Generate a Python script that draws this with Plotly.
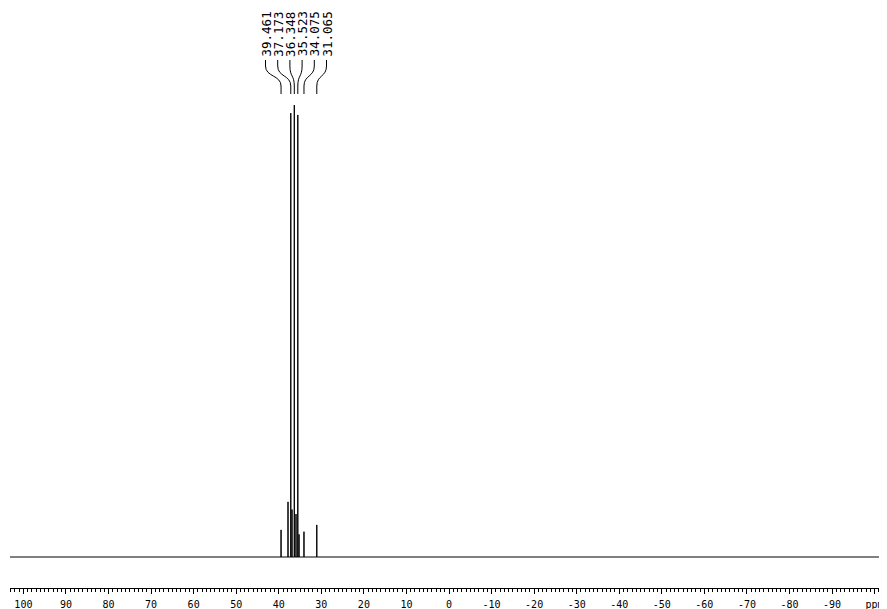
import plotly.graph_objects as go

# ---------------- data ----------------
peak_ppm = [39.461, 37.173, 36.348, 35.523, 34.075, 31.065]
peak_height = [0.060, 0.982, 1.000, 0.978, 0.056, 0.071]
peak_labels = ["39.461", "37.173", "36.348", "35.523", "34.075", "31.065"]

# unlabelled shoulder lines at the foot of the main multiplet
shoulder_ppm = [37.83, 36.89, 35.95, 35.24]
shoulder_height = [0.122, 0.105, 0.095, 0.050]

tick_vals = [100, 90, 80, 70, 60, 50, 40, 30, 20, 10, 0,
             -10, -20, -30, -40, -50, -60, -70, -80, -90, -100]
tick_text = ["100", "90", "80", "70", "60", "50", "40", "30", "20", "10", "0",
             "-10", "-20", "-30", "-40", "-50", "-60", "-70", "-80", "-90", "ppm"]

# ---------------- geometry helpers (page pixel -> data) ----------------
OFFSET = 8           # page body margin
FIG_W, FIG_H = 887 - OFFSET, 609 - OFFSET
ZERO_PX = 449.0      # page x pixel of 0 ppm
PX_PER_PPM = 4.256
BASE_PX = 557.0      # page y pixel of the baseline
PX_PER_UNIT = 452.0  # y pixels for intensity 1.0
PLOT_LEFT_PX, PLOT_RIGHT_PX = 10.0, 880.0
PLOT_TOP_PX, PLOT_BOTTOM_PX = 8.0, 588.0

def ppm_of_px(p):
    return (ZERO_PX - p) / PX_PER_PPM

def y_of_px(p):
    return (BASE_PX - p) / PX_PER_UNIT

x_left, x_right = ppm_of_px(PLOT_LEFT_PX), ppm_of_px(PLOT_RIGHT_PX)

# ---------------- spectrum as sticks on a baseline ----------------
sticks = sorted(zip(peak_ppm + shoulder_ppm, peak_height + shoulder_height),
                key=lambda t: -t[0])
xs, ys = [x_left], [0.0]
for p, h in sticks:
    xs += [p, p, p]
    ys += [0.0, h, 0.0]
xs.append(x_right)
ys.append(0.0)

fig = go.Figure()
fig.add_trace(go.Scatter(x=xs, y=ys, mode="lines",
                         line=dict(color="black", width=1),
                         hoverinfo="skip", showlegend=False))

# ---------------- peak labels and leader lines ----------------
label_center_px = 296.0
label_step_px = 12.2
n = len(peak_labels)
annotations = []
shapes = []
for i, (lab, p) in enumerate(zip(peak_labels, peak_ppm)):
    lx_px = label_center_px + (i - (n - 1) / 2) * label_step_px
    lx = ppm_of_px(lx_px)
    annotations.append(dict(
        x=lx, y=y_of_px(34), xref="x", yref="y", text=lab,
        textangle=-90, showarrow=False, xanchor="center", yanchor="middle",
        font=dict(family="DejaVu Sans Mono", size=12.5, color="black")))
    y0, y1, y2, y3 = y_of_px(60), y_of_px(66), y_of_px(86), y_of_px(94)
    ym1, ym2 = y_of_px(77), y_of_px(75)
    path = (f"M {lx},{y0} L {lx},{y1} "
            f"C {lx},{ym1} {p},{ym2} {p},{y2} L {p},{y3}")
    shapes.append(dict(type="path", path=path, xref="x", yref="y",
                       line=dict(color="black", width=1)))

fig.update_layout(
    width=FIG_W, height=FIG_H,
    margin=dict(l=PLOT_LEFT_PX - OFFSET, r=FIG_W - (PLOT_RIGHT_PX - OFFSET),
                t=PLOT_TOP_PX - OFFSET, b=FIG_H - (PLOT_BOTTOM_PX - OFFSET), pad=0),
    paper_bgcolor="white", plot_bgcolor="white",
    showlegend=False,
    annotations=annotations,
    shapes=shapes,
    xaxis=dict(
        range=[x_left, x_right],
        tickmode="array", tickvals=tick_vals, ticktext=tick_text,
        showline=True, linecolor="black", linewidth=1,
        ticks="outside", ticklen=5, tickwidth=1, tickcolor="black",
        ticklabelstandoff=2,
        minor=dict(tickmode="linear", tick0=0, dtick=1, ticks="outside",
                   ticklen=3, tickwidth=1, tickcolor="black", showgrid=False),
        showgrid=False, zeroline=False,
        tickfont=dict(family="DejaVu Sans Mono", size=10, color="black"),
    ),
    yaxis=dict(visible=False, range=[y_of_px(PLOT_BOTTOM_PX), y_of_px(PLOT_TOP_PX)],
               showgrid=False, zeroline=False),
)

fig.write_html("out.html")
